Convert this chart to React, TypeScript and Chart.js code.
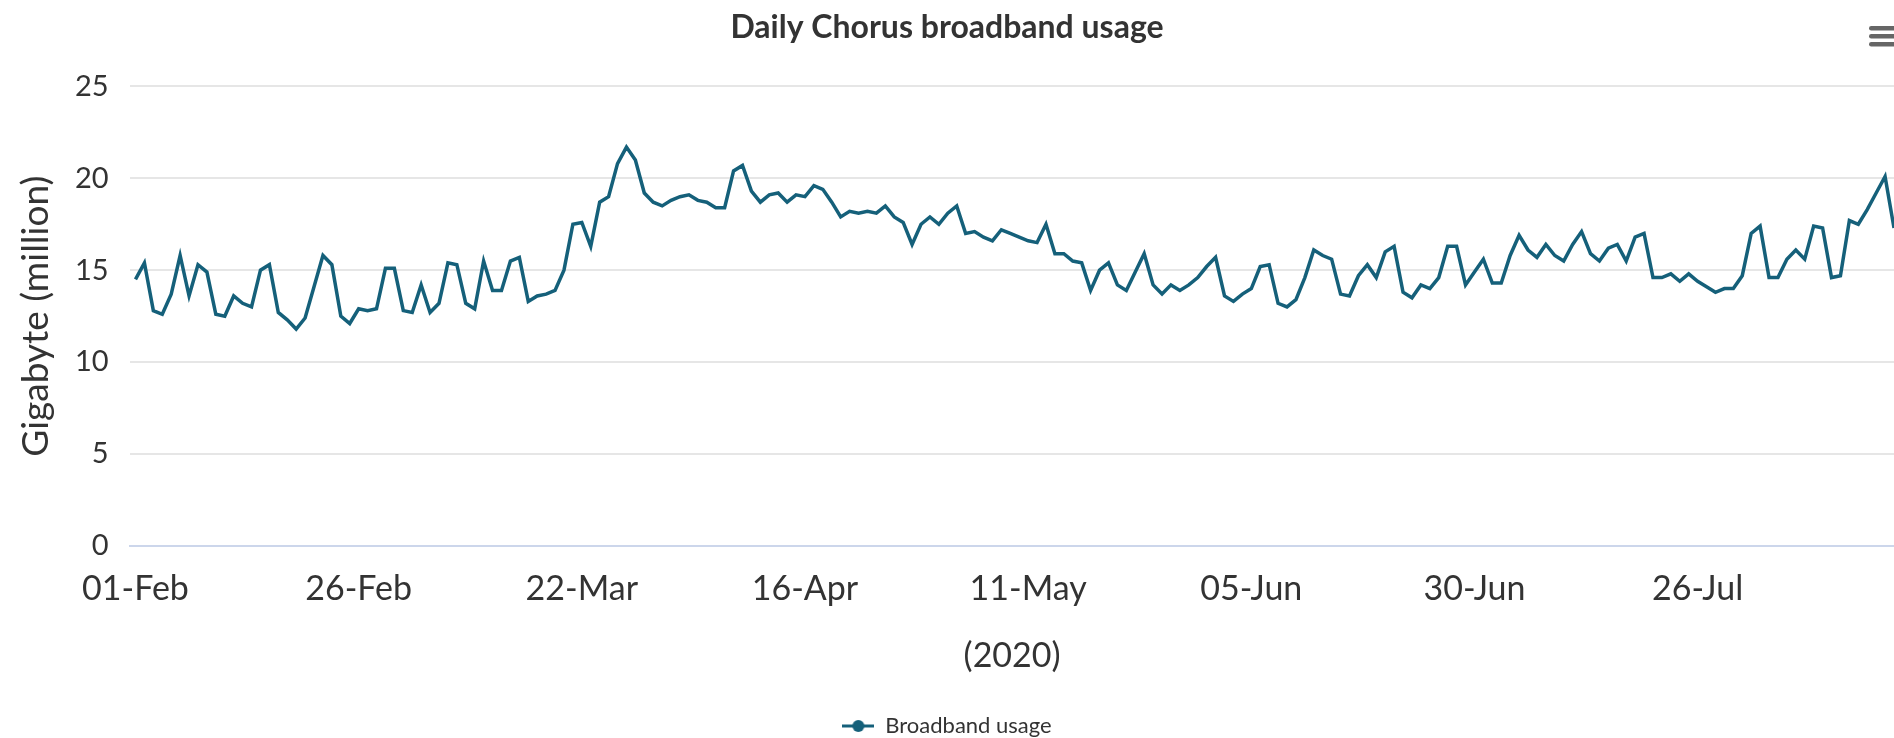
import React, { useEffect, useRef } from "react";
import { Chart, registerables } from "chart.js";

Chart.register(...registerables);

const TITLE = "Daily Chorus broadband usage";
const SERIES_NAME = "Broadband usage";
const Y_TITLE = "Gigabyte (million)";
const X_TITLE = "(2020)";
const TICK_LABELS = ["01-Feb", "26-Feb", "22-Mar", "16-Apr", "11-May", "05-Jun", "30-Jun", "26-Jul"];
const TICK_STEP = 25;
const Y_MIN = 0;
const Y_MAX = 25;
const Y_STEP = 5;

// Daily usage, gigabytes (million), one value per day starting 01-Feb-2020
const USAGE = [
  14.5, 15.4, 12.8, 12.6, 13.7, 15.8, 13.6, 15.3, 14.9, 12.6, 12.5, 13.6, 13.2, 13.0,
  15.0, 15.3, 12.7, 12.3, 11.8, 12.4, 14.1, 15.8, 15.3, 12.5, 12.1, 12.9, 12.8, 12.9,
  15.1, 15.1, 12.8, 12.7, 14.2, 12.7, 13.2, 15.4, 15.3, 13.2, 12.9, 15.5, 13.9, 13.9,
  15.5, 15.7, 13.3, 13.6, 13.7, 13.9, 15.0, 17.5, 17.6, 16.3, 18.7, 19.0, 20.8, 21.7,
  21.0, 19.2, 18.7, 18.5, 18.8, 19.0, 19.1, 18.8, 18.7, 18.4, 18.4, 20.4, 20.7, 19.3,
  18.7, 19.1, 19.2, 18.7, 19.1, 19.0, 19.6, 19.4, 18.7, 17.9, 18.2, 18.1, 18.2, 18.1,
  18.5, 17.9, 17.6, 16.4, 17.5, 17.9, 17.5, 18.1, 18.5, 17.0, 17.1, 16.8, 16.6, 17.2,
  17.0, 16.8, 16.6, 16.5, 17.5, 15.9, 15.9, 15.5, 15.4, 13.9, 15.0, 15.4, 14.2, 13.9,
  14.9, 15.9, 14.2, 13.7, 14.2, 13.9, 14.2, 14.6, 15.2, 15.7, 13.6, 13.3, 13.7, 14.0,
  15.2, 15.3, 13.2, 13.0, 13.4, 14.6, 16.1, 15.8, 15.6, 13.7, 13.6, 14.7, 15.3, 14.6,
  16.0, 16.3, 13.8, 13.5, 14.2, 14.0, 14.6, 16.3, 16.3, 14.2, 14.9, 15.6, 14.3, 14.3,
  15.8, 16.9, 16.1, 15.7, 16.4, 15.8, 15.5, 16.4, 17.1, 15.9, 15.5, 16.2, 16.4, 15.5,
  16.8, 17.0, 14.6, 14.6, 14.8, 14.4, 14.8, 14.4, 14.1, 13.8, 14.0, 14.0, 14.7, 17.0,
  17.4, 14.6, 14.6, 15.6, 16.1, 15.6, 17.4, 17.3, 14.6, 14.7, 17.7, 17.5, 18.3, 19.2,
  20.1, 17.3,
];

const LINE_COLOR = "#15607a";
const TEXT_COLOR = "#333333";
const GRID_COLOR = "#e6e6e6";
const AXIS_COLOR = "#ccd6eb";
const FONT = "'Source Sans Pro', Lato, 'Noto Sans', sans-serif";

export default function App() {
  const canvasRef = useRef<HTMLCanvasElement | null>(null);

  useEffect(() => {
    const canvas = canvasRef.current;
    if (!canvas) return;

    const sym = document.createElement("canvas");
    sym.width = 32;
    sym.height = 14;
    const sc = sym.getContext("2d")!;
    sc.strokeStyle = LINE_COLOR;
    sc.lineWidth = 3;
    sc.beginPath();
    sc.moveTo(0, 7);
    sc.lineTo(32, 7);
    sc.stroke();
    sc.fillStyle = LINE_COLOR;
    sc.beginPath();
    sc.arc(16, 7, 6, 0, Math.PI * 2);
    sc.fill();

    const menuPlugin = {
      id: "menuIcon",
      afterDraw(chart: any) {
        const ctx = chart.ctx;
        ctx.save();
        ctx.fillStyle = "#666666";
        for (let k = 0; k < 3; k++) {
          ctx.beginPath();
          ctx.roundRect(1869, 26 + k * 8, 30, 4.5, 2.25);
          ctx.fill();
        }
        ctx.restore();
      },
    };

    const points = USAGE.map((v, i) => ({ x: i, y: v }));

    const chart = new Chart(canvas, {
      type: "line",
      data: {
        datasets: [
          {
            label: SERIES_NAME,
            data: points,
            borderColor: LINE_COLOR,
            backgroundColor: LINE_COLOR,
            borderWidth: 3.5,
            pointRadius: 0,
            pointHoverRadius: 0,
            tension: 0,
          },
        ],
      },
      options: {
        animation: false,
        responsive: true,
        maintainAspectRatio: false,
        layout: { padding: { left: 0, right: 0, top: 0, bottom: -9 } },
        plugins: {
          title: {
            display: true,
            text: TITLE,
            color: TEXT_COLOR,
            font: { family: FONT, size: 32, weight: "bold" },
            padding: { top: 8, bottom: 40 },
          },
          legend: {
            display: true,
            position: "bottom",
            labels: {
              color: TEXT_COLOR,
              font: { family: FONT, size: 22 },
              usePointStyle: true,
              pointStyle: sym as any,
              pointStyleWidth: 32,
              boxHeight: 14,
              padding: 6,
            },
          },
          tooltip: { enabled: false },
        },
        scales: {
          x: {
            type: "linear",
            min: -0.6,
            max: USAGE.length - 1,
            grid: { display: false, drawTicks: false },
            border: { display: true, color: AXIS_COLOR, width: 2 },
            ticks: {
              stepSize: TICK_STEP,
              includeBounds: false,
              autoSkip: false,
              maxRotation: 0,
              color: TEXT_COLOR,
              padding: 22.5,
              font: { family: FONT, size: 34 },
              callback: (v: any) => {
                const idx = Number(v) / TICK_STEP;
                return Number.isInteger(idx) && TICK_LABELS[idx] ? TICK_LABELS[idx] : "";
              },
            },
            title: {
              display: true,
              text: X_TITLE,
              color: TEXT_COLOR,
              font: { family: FONT, size: 34 },
              padding: { top: 3.5, bottom: 33 },
            },
          },
          y: {
            min: Y_MIN,
            max: Y_MAX,
            grid: {
              color: (ctx: any) => (ctx.tick && ctx.tick.value === 0 ? AXIS_COLOR : GRID_COLOR),
              lineWidth: 2,
              drawTicks: false,
            },
            border: { display: false },
            ticks: {
              stepSize: Y_STEP,
              color: TEXT_COLOR,
              padding: 21.5,
              font: { family: FONT, size: 29 },
            },
            title: {
              display: true,
              text: Y_TITLE,
              color: TEXT_COLOR,
              font: { family: FONT, size: 37 },
              padding: { top: 13.8, bottom: -4.7 },
            },
          },
        },
      },
      plugins: [menuPlugin],
    });

    return () => chart.destroy();
  }, []);

  return (
    <div style={{ position: "fixed", left: 0, top: 0, width: 1894, height: 738, background: "#ffffff" }}>
      <canvas ref={canvasRef} />
    </div>
  );
}
